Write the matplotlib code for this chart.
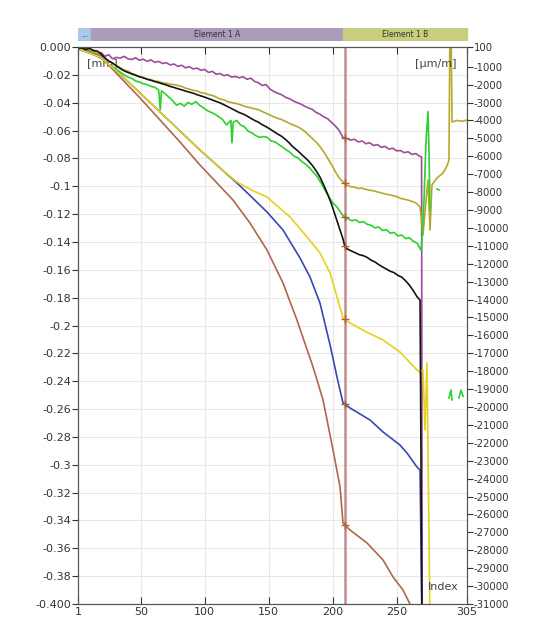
import numpy as np
import matplotlib.pyplot as plt

purple_x = [1, 4, 7, 10, 13, 16, 19, 22, 25, 28, 31, 34, 37, 40, 43, 46, 49, 52, 55, 58,
            61, 64, 67, 70, 73, 76, 79, 82, 85, 88, 91, 94, 97, 100, 103, 106, 109, 112, 115, 118,
            121, 124, 127, 130, 133, 136, 139, 142, 145, 148, 151, 154, 157, 160, 163, 166, 169, 172, 175, 178,
            181, 184, 187, 190, 193, 196, 199, 202, 205, 208, 211, 214, 217, 220, 223, 226, 229, 232, 235, 238,
            241, 244, 247, 250, 253, 256, 259, 262, 265, 268, 269.5, 270]
purple_y = [0, -60, 20, -150, -80, -300, -200, -420, -330, -560, -480, -520, -420, -560, -600, -500, -640, -580, -700, -620,
            -760, -700, -820, -780, -900, -850, -980, -920, -1060, -1000, -1120, -1080, -1200, -1150, -1320, -1260, -1420, -1380, -1500, -1450,
            -1580, -1540, -1620, -1560, -1700, -1640, -1820, -1900, -2050, -2000, -2250, -2380, -2480, -2560, -2700, -2780, -2900, -3000, -3080, -3200,
            -3300, -3380, -3550, -3650, -3800, -3900, -4100, -4300, -4550, -4950, -5000, -5100, -5050, -5200, -5150, -5300, -5250, -5400, -5350, -5500,
            -5450, -5600, -5550, -5700, -5680, -5800, -5750, -5900, -5850, -6000, -6040, -32000]

olive_x = [1, 4, 7, 10, 13, 16, 19, 22, 25, 28, 31, 34, 37, 40, 43, 46, 49, 52, 55, 58,
           61, 64, 67, 70, 73, 76, 79, 82, 85, 88, 91, 94, 97, 100, 103, 106, 109, 112, 115, 118,
           121, 124, 127, 130, 133, 136, 139, 142, 145, 148, 151, 154, 157, 160, 163, 166, 169, 172, 175, 178,
           181, 184, 187, 190, 193, 196, 199, 202, 205, 208, 211, 214, 217, 220, 223, 226, 229, 232, 235, 238,
           241, 244, 247, 250, 253, 256, 259, 262, 265, 268.3, 270.6, 273, 274.5, 276.1, 277.6, 281.6, 286.2, 289.4, 290.9, 291.7,
           292.5, 293.3, 297, 301, 305]
olive_y = [0, 50, -80, -50, -200, -250, -400, -550, -700, -800, -950, -1050, -1180, -1250, -1380, -1450, -1560, -1600, -1700, -1720,
           -1800, -1820, -1900, -1920, -1980, -2000, -2050, -2100, -2200, -2250, -2320, -2350, -2450, -2480, -2560, -2600, -2700, -2800, -2850, -2950,
           -3000, -3050, -3100, -3180, -3250, -3300, -3350, -3400, -3500, -3600, -3700, -3800, -3880, -3950, -4050, -4150, -4250, -4330, -4450, -4600,
           -4800, -5000, -5200, -5450, -5750, -6100, -6450, -6850, -7200, -7430, -7600, -7700, -7720, -7800, -7780, -7850, -7900, -7930, -7990, -8050,
           -8100, -8150, -8200, -8250, -8350, -8400, -8450, -8520, -8600, -8830, -10400, -8450, -7330, -10120, -7600, -7210, -6940, -6540, -6210, 1500,
           1500, -4090, -4000, -4050, -3980]

green_x = [1, 3, 5, 8, 10, 13, 16, 19, 22, 25, 28, 31, 34, 37, 40, 43, 46, 49, 52, 55,
           58, 61, 64, 65.3, 66.2, 69, 72, 75, 78, 81, 84, 87, 90, 93, 96, 99, 102, 105, 108, 111,
           114, 117, 119, 120.5, 121.3, 122.3, 125, 128, 131, 134, 137, 140, 143, 146, 149, 152, 155, 158, 161, 164,
           167, 170, 173, 176, 179, 182, 185, 188, 191, 194, 197, 200, 203, 206, 209, 212, 215, 218, 221, 224,
           227, 230, 233, 236, 239, 242, 245, 248, 251, 254, 257, 260, 263, 266, 269, 269.8, 271.4, 273, 274.5, 275.3,
           276.1, np.nan, 281.6, 283.1, np.nan, 290.9, 292.5, 293.3, np.nan, 298.7, 300.3, 301.9]
green_y = [0, 40, -100, -60, -180, -300, -420, -520, -700, -900, -1000, -1150, -1300, -1450, -1580, -1650, -1800, -1850, -1950, -2000,
           -2100, -2150, -2300, -3400, -2350, -2500, -2700, -2900, -3150, -3050, -3200, -3000, -3100, -2950, -3150, -3300, -3450, -3550, -3650, -3800,
           -3950, -4250, -4100, -4000, -5250, -4100, -4000, -4250, -4350, -4600, -4700, -4850, -4950, -4900, -4950, -5150, -5200, -5350, -5500, -5650,
           -5800, -6000, -6100, -6300, -6450, -6650, -6900, -7150, -7500, -7900, -8250, -8600, -8800, -9100, -9400, -9500, -9600, -9550, -9700, -9650,
           -9800, -9850, -10000, -9950, -10150, -10100, -10300, -10250, -10450, -10400, -10600, -10550, -10750, -10850, -11250, -10700, -8450, -5100, -3500, -5650,
           -9000, np.nan, -7830, -7880, np.nan, -19500, -19050, -19600, np.nan, -19500, -19050, -19400]

black_x = [1, 4, 7, 10, 13, 16, 19, 22, 25, 28, 31, 34, 37, 40, 43, 46, 49, 52, 55, 58,
           61, 64, 67, 70, 73, 76, 79, 82, 85, 88, 91, 94, 97, 100, 103, 106, 109, 112, 115, 118,
           121, 124, 127, 130, 133, 136, 139, 142, 145, 148, 151, 154, 157, 160, 163, 166, 169, 172, 175, 178,
           181, 184, 187, 190, 193, 196, 199, 202, 205, 208, 209.7, 212, 215, 218, 221, 224, 227, 230, 233, 236,
           239, 242, 245, 248, 251, 254, 257, 260, 263, 266, 268.3, 269.8]
black_y = [0, 60, -50, 30, -100, -120, -300, -500, -680, -800, -950, -1100, -1230, -1320, -1400, -1480, -1560, -1620, -1700, -1760,
           -1830, -1890, -1960, -2020, -2100, -2160, -2230, -2290, -2360, -2420, -2480, -2560, -2630, -2700, -2780, -2860, -2940, -3020, -3120, -3230,
           -3340, -3450, -3560, -3640, -3750, -3880, -4000, -4100, -4240, -4350, -4480, -4620, -4760, -4880, -5050, -5250, -5480, -5650, -5850, -6050,
           -6250, -6500, -6800, -7150, -7600, -8100, -8650, -9300, -9950, -10600, -11070, -11200, -11300, -11400, -11500, -11550, -11650, -11800, -11900, -12050,
           -12180, -12300, -12420, -12500, -12650, -12750, -12950, -13200, -13500, -13850, -14030, -32000]

blue_x = [1, 18.2, 33.8, 49.5, 65.1, 80.7, 96.3, 112, 125.3, 137, 148.7, 161.2, 174.5, 182.3, 190.1, 198, 203.4, 208.1, 213.6, 229.2,
          239.4, 252.6, 258.1, 265.9, 268.3, 269.8]
blue_y = [0, -458, -1407, -2468, -3529, -4590, -5651, -6656, -7500, -8300, -9113, -10118, -11681, -12742, -14193, -16539, -18326, -19777, -20056, -20726,
          -21396, -22122, -22569, -23351, -23519, -32000]

yellow_x = [1, 18.2, 33.8, 49.5, 65.1, 80.7, 96.3, 112, 125.3, 137, 148.7, 166.7, 180, 190.1, 198, 203.4, 208.1, 213.6, 226, 239.4,
            252.6, 265.9, 268.3, 270.6, 272.2, 273.7, 276.1]
yellow_y = [0, -458, -1407, -2468, -3529, -4590, -5651, -6656, -7438, -7900, -8275, -9392, -10509, -11402, -12519, -13859, -15031, -15310, -15800, -16260,
            -16930, -17935, -18046, -17935, -21285, -17544, -32000]

brown_x = [1, 18.2, 33.8, 49.5, 65.1, 80.7, 96.3, 109.6, 122.1, 135.4, 148.7, 161.2, 172.1, 184.7, 192.5, 200.3, 205.8, 208.1, 213.6, 226.9,
           239.4, 247.2, 255, 262]
brown_y = [0, -403, -1575, -2748, -3976, -5204, -6488, -7494, -8443, -9727, -11235, -13077, -15143, -17767, -19610, -22401, -24468, -26478, -26869, -27595,
           -28543, -29493, -30219, -31224]

x_ticks = [1, 50, 100, 150, 200, 250, 305]
left_ticks = list(np.round(np.arange(0, -0.4001, -0.02), 2))
right_ticks = [100] + list(range(-1000, -31001, -1000))
cursor_idx = 209.5
segments = [(1, 11.2, '...', '#a9c8ea'), (11.2, 208.1, 'Element 1 A', '#aa9cba'), (208.1, 305, 'Element 1 B', '#c8cf7c')]

series = [
    (purple_x, purple_y, '#9c4c9c'),
    (olive_x, olive_y, '#b3a92c'),
    (green_x, green_y, '#2ed02e'),
    (brown_x, brown_y, '#b0664c'),
    (blue_x, blue_y, '#3848b0'),
    (yellow_x, yellow_y, '#e4d21c'),
    (black_x, black_y, '#141414'),
]

W, H = 536, 619
fig = plt.figure(figsize=(W / 100, H / 100), dpi=100)
fig.patch.set_facecolor('white')

ax = fig.add_axes([78 / W, 1 - 604 / H, 389 / W, 557 / H])
ax2 = ax.twinx()

ax.set_xlim(1, 305)
ax.set_ylim(-0.4, 0)
ax2.set_ylim(-31000, 100)

ax.set_xticks(x_ticks)
ax.set_xticklabels([str(t) for t in x_ticks])
ax.set_yticks(left_ticks)
labs = []
for v in left_ticks:
    s = f"{v:.2f}".rstrip('0').rstrip('.')
    labs.append(s)
labs[0] = '0.000'
labs[-1] = '-0.400'
ax.set_yticklabels(labs)
ax2.set_yticks(right_ticks)
ax2.set_yticklabels([str(t) for t in right_ticks])

ax.grid(True, color='#e8e8e8', lw=0.8)
ax.set_axisbelow(True)
ax.tick_params(axis='x', direction='in', length=5, top=True, labelsize=8, pad=2, colors='#333333')
ax.tick_params(axis='y', direction='out', length=4, labelsize=8, pad=1, colors='#333333')
ax2.tick_params(axis='y', direction='out', length=4, labelsize=7.3, pad=1, colors='#333333')
for a in (ax, ax2):
    for sp in a.spines.values():
        sp.set_color('#555555')

ax2.axvline(cursor_idx, color='#c48c8c', lw=1.8, zorder=1)

for xs, ys, c in series:
    ax2.plot(xs, ys, color=c, lw=1.2)
    xa = np.array(xs, dtype=float)
    ya = np.array(ys, dtype=float)
    ok = np.isfinite(xa)
    ax2.plot([cursor_idx], [np.interp(cursor_idx, xa[ok], ya[ok])], marker='+', ms=6,
             color='#b06030', mew=1)

ax.text(0.022, 0.972, '[mm]', transform=ax.transAxes, fontsize=8, color='#444444', va='center')
ax2.text(0.92, 0.969, '[µm/m]', transform=ax.transAxes, fontsize=8, color='#444444', va='center', ha='center', zorder=5)
ax2.text(0.94, 0.03, 'Index', transform=ax.transAxes, fontsize=8, color='#444444', va='center', ha='center', zorder=5)

# element band above the plot
band = fig.add_axes([78 / W, 1 - 41 / H, 392 / W, 13 / H])
band.set_xlim(1, 305 * 392 / 389)
band.set_ylim(0, 1)
for x0, x1, name, c in segments:
    band.axvspan(x0, x1, color=c)
    band.text((x0 + x1) / 2, 0.5, name, ha='center', va='center', fontsize=5.5, color='#333333')
band.axis('off')

fig.savefig('out.png', dpi=100)
